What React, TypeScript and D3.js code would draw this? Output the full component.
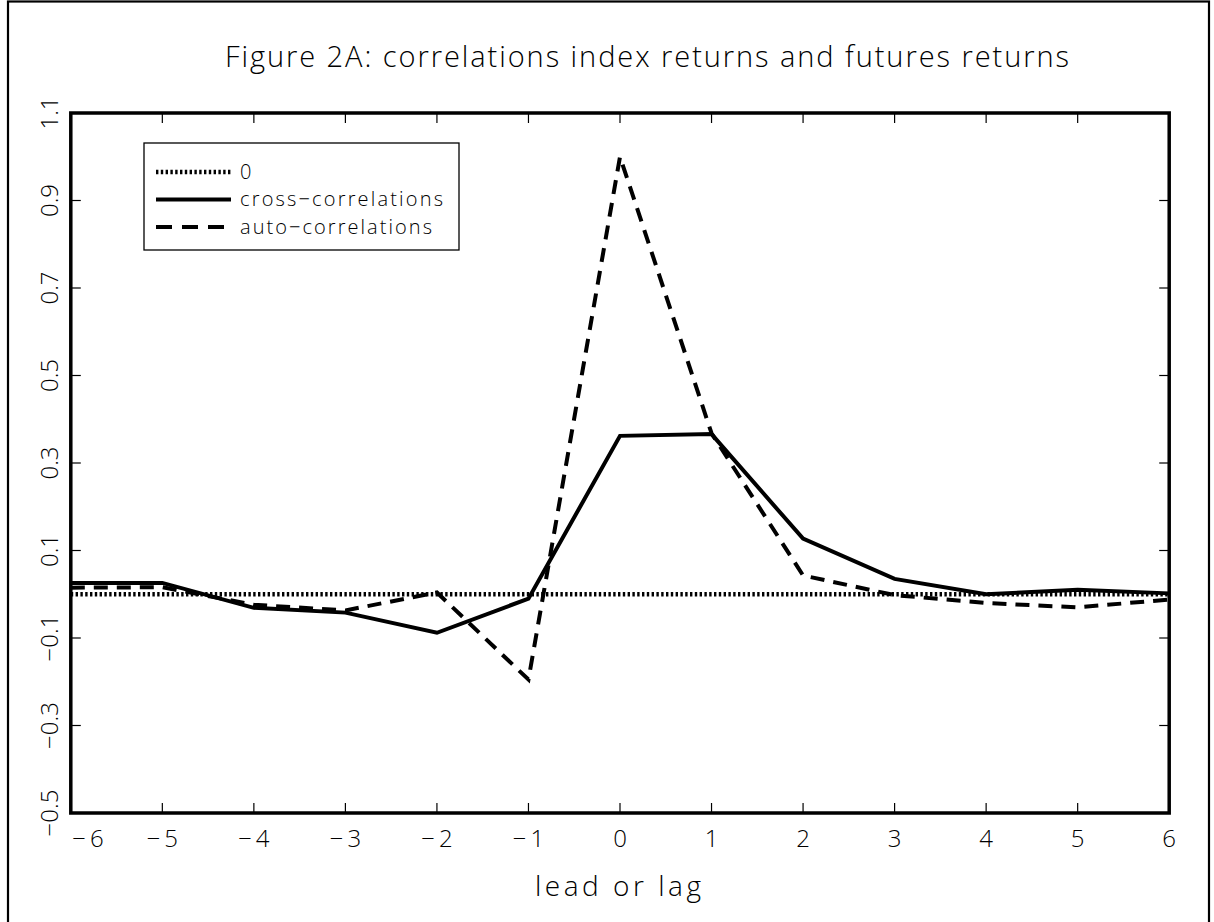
import React from "react";
import * as d3 from "d3";

// Lags (leads are negative)
const lags: number[] = [-6, -5, -4, -3, -2, -1, 0, 1, 2, 3, 4, 5, 6];

// Cross-correlations between index returns and futures returns
const crossCorr: number[] = [0.026, 0.026, -0.031, -0.042, -0.088, -0.01, 0.362, 0.366, 0.127, 0.035, 0.0, 0.01, 0.002];

// Auto-correlations
const autoCorr: number[] = [0.015, 0.016, -0.024, -0.037, 0.004, -0.195, 1.0, 0.368, 0.043, -0.002, -0.02, -0.03, -0.012];

// Reference line at zero
const zeroLine: number[] = lags.map(() => 0);

const xTicks: number[] = [-6, -5, -4, -3, -2, -1, 0, 1, 2, 3, 4, 5, 6];
const yTicks: number[] = [-0.5, -0.3, -0.1, 0.1, 0.3, 0.5, 0.7, 0.9, 1.1];

const legendItems: { label: string; kind: "dot" | "solid" | "dash"; len?: number }[] = [
  { label: "0", kind: "dot" },
  { label: "cross\u2212correlations", kind: "solid", len: 203 },
  { label: "auto\u2212correlations", kind: "dash", len: 192 },
];

const W = 1214;
const H = 922;
const plot = { left: 70.8, right: 1169.2, top: 113, bottom: 813 };
const FONT = "'Open Sans', 'DejaVu Sans', sans-serif";

const fmtTick = (v: number) => v.toFixed(1).replace("-", "\u2212");

const styleFor = (kind: string) => {
  if (kind === "dot") return { strokeWidth: 4.5, dash: "2.4 2.4" };
  if (kind === "dash") return { strokeWidth: 4, dash: "14 9" };
  return { strokeWidth: 4, dash: undefined as string | undefined };
};

export default function App() {
  const x = d3.scaleLinear().domain([-6, 6]).range([plot.left, plot.right]);
  const y = d3.scaleLinear().domain([-0.5, 1.1]).range([plot.bottom, plot.top]);

  const line = d3
    .line<number>()
    .x((_, i) => x(lags[i]))
    .y((d) => y(d));

  const series = [
    { values: zeroLine, kind: "dot" },
    { values: autoCorr, kind: "dash" },
    { values: crossCorr, kind: "solid" },
  ];

  const legend = { x: 144, y: 143, w: 315, h: 107 };

  return (
    <svg
      width={W}
      height={H}
      style={{ position: "absolute", left: 0, top: 0, background: "#fff" }}
      fontFamily={FONT}
    >
      <rect x={0} y={0} width={W} height={H} fill="#fff" />
      {/* outer frame */}
      <rect x={8} y={1.5} width={1201} height={1000} fill="none" stroke="#000" strokeWidth={2.2} />

      {/* title */}
      <text
        x={(225 + 1069) / 2}
        y={67}
        textAnchor="middle"
        fontSize={29}
        fontWeight={300}
        textLength={844}
        lengthAdjust="spacing"
      >
        Figure 2A: correlations index returns and futures returns
      </text>

      {/* ticks: bottom/top */}
      {xTicks.map((t) => (
        <g key={"xt" + t}>
          <line x1={x(t)} x2={x(t)} y1={plot.bottom} y2={plot.bottom - 10} stroke="#000" strokeWidth={1.2} />
          <line x1={x(t)} x2={x(t)} y1={plot.top} y2={plot.top + 10} stroke="#000" strokeWidth={1.2} />
          <text
            x={t === -6 ? plot.left + 1.5 : x(t)}
            y={847}
            textAnchor={t === -6 ? "start" : "middle"}
            fontSize={24}
            fontWeight={300}
          >
            {String(t).replace("-", "\u2212\u2009")}
          </text>
        </g>
      ))}

      {/* ticks: left/right */}
      {yTicks.map((t) => (
        <g key={"yt" + t}>
          <line x1={plot.left} x2={plot.left + 10} y1={y(t)} y2={y(t)} stroke="#000" strokeWidth={1.2} />
          <line x1={plot.right} x2={plot.right - 10} y1={y(t)} y2={y(t)} stroke="#000" strokeWidth={1.2} />
          <text
            transform={`translate(58,${y(t)}) rotate(-90)`}
            textAnchor="middle"
            fontSize={24}
            fontWeight={300}
          >
            {fmtTick(t)}
          </text>
        </g>
      ))}

      {/* data lines */}
      {series.map((s) => {
        const st = styleFor(s.kind);
        return (
          <path
            key={s.kind}
            d={line(s.values) || ""}
            fill="none"
            stroke="#000"
            strokeWidth={st.strokeWidth}
            strokeDasharray={st.dash}
            strokeLinejoin="miter"
          />
        );
      })}

      {/* plot frame */}
      <rect
        x={plot.left}
        y={plot.top}
        width={plot.right - plot.left}
        height={plot.bottom - plot.top}
        fill="none"
        stroke="#000"
        strokeWidth={3.5}
      />

      {/* legend */}
      <rect x={legend.x} y={legend.y} width={legend.w} height={legend.h} fill="#fff" stroke="#000" strokeWidth={1.3} />
      {legendItems.map((it, i) => {
        const st = styleFor(it.kind);
        const yy = 172 + i * 27.5;
        return (
          <g key={it.label}>
            <line
              x1={156}
              x2={231}
              y1={yy}
              y2={yy}
              stroke="#000"
              strokeWidth={st.strokeWidth}
              strokeDasharray={it.kind === "dash" ? "16 10" : st.dash}
            />
            <text
              x={240}
              y={yy + 6.5}
              fontSize={20}
              fontWeight={300}
              textLength={it.len}
              lengthAdjust={it.len ? "spacing" : undefined}
            >
              {it.label}
            </text>
          </g>
        );
      })}

      {/* x axis title */}
      <text x={618} y={896} textAnchor="middle" fontSize={28} fontWeight={300} textLength={166} lengthAdjust="spacing">
        lead or lag
      </text>
    </svg>
  );
}
